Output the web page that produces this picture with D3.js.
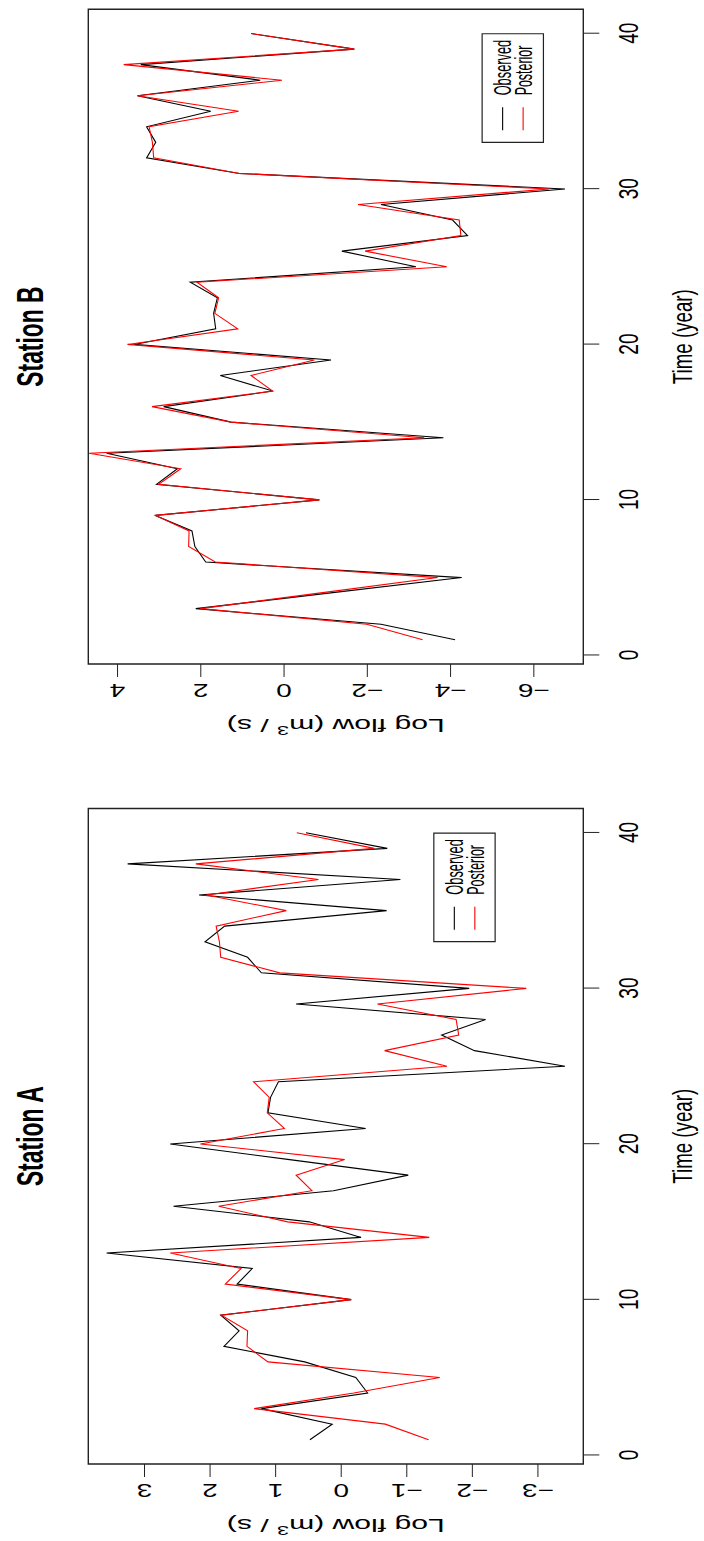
<!DOCTYPE html>
<html><head><meta charset="utf-8">
<script src="https://cdn.jsdelivr.net/npm/d3@7"></script>
<style>body{margin:0;background:#fff} svg{display:block}</style>
</head><body>
<script>
// ---- data ----
const years = [1,2,3,4,5,6,7,8,9,10,11,12,13,14,15,16,17,18,19,20,21,22,23,24,25,26,27,28,29,30,31,32,33,34,35,36,37,38,39,40];
const observedA = [0.47,0.13,1.21,-0.41,-0.23,0.55,1.78,1.55,1.83,-0.16,1.58,1.35,3.57,-0.31,0.48,2.55,0.11,-1.03,0.78,2.60,-0.38,1.11,1.07,0.95,-3.42,-2.04,-1.54,-2.21,0.68,-1.96,1.21,1.42,2.07,1.77,-0.70,2.16,-0.91,3.25,-0.71,0.53];
const posteriorA = [-1.34,-0.68,1.32,-0.20,-1.51,1.11,1.43,1.42,1.82,-0.16,1.76,1.52,2.60,-1.35,0.81,1.86,0.44,0.68,-0.06,2.14,0.86,1.12,1.09,1.33,-1.62,-0.67,-1.80,-1.76,-0.56,-2.83,0.93,1.83,1.85,1.90,0.83,2.05,0.34,2.21,-0.51,0.67];
const observedB = [-4.12,-2.34,2.11,-1.08,-4.28,1.87,2.13,2.20,3.08,-0.86,3.05,2.55,4.25,-3.84,1.26,2.88,0.26,1.52,-1.14,3.59,1.63,1.68,1.59,2.24,-3.18,-1.40,-4.42,-4.06,-2.34,-6.76,1.06,3.29,3.07,3.29,1.75,3.51,0.56,3.43,-1.70,0.78];
const posteriorB = [-3.34,-2.00,2.00,-0.85,-3.70,1.64,2.28,2.27,3.08,-0.86,3.00,2.47,4.67,-3.38,1.26,3.16,0.26,0.78,-0.74,3.75,1.10,1.65,1.56,2.08,-3.92,-1.96,-4.26,-4.22,-1.79,-6.38,1.06,3.12,3.15,3.23,1.08,3.51,0.04,3.84,-1.70,0.78];
const timeTicks = [0,10,20,30,40];
const flowTicksA = [-3,-2,-1,0,1,2,3];
const flowTicksB = [-6,-4,-2,0,2,4];
const titles = ["Station A","Station B"];
const legendLabels = ["Observed","Posterior"];
const seriesColors = ["#000000","#ff0000"];
const xLabel = "Time (year)";

// ---- layout ----
const W = 704, H = 1541;
const k = 0.68;            // horizontal compression of the (unrotated) figure
const FONT = "'Liberation Sans', Arial, Helvetica, sans-serif";

const svg = d3.select("body").append("svg").attr("width", W).attr("height", H)
  .attr("xmlns","http://www.w3.org/2000/svg");
svg.append("rect").attr("width", W).attr("height", H).attr("fill", "#fff");

// Figure is drawn unrotated (width 1541, height 704) and rotated 90deg counter-clockwise.
const root = svg.append("g").attr("transform", `translate(0,${H}) rotate(-90) scale(${k},1)`);

const panels = [
  {title: titles[0], obs: observedA, post: posteriorA, ticks: flowTicksA, X0: 77, X1: 732.5, legY: -1.42, legX: 33},
  {title: titles[1], obs: observedB, post: posteriorB, ticks: flowTicksB, X0: 877, X1: 1531.7, legY: -4.77, legX: 33}
];
const plotTop = 88.3, plotBottom = 583.3;

panels.forEach((p, pi) => {
  const g = root.append("g");
  const xe = d3.extent(years), xp = (xe[1]-xe[0])*0.04;
  const x = d3.scaleLinear().domain([xe[0]-xp, xe[1]+xp]).range([p.X0/k, p.X1/k]);
  const ye = d3.extent(p.obs), yp = (ye[1]-ye[0])*0.04;
  const y = d3.scaleLinear().domain([ye[0]-yp, ye[1]+yp]).range([plotBottom, plotTop]);

  const cid = "clip" + pi;
  g.append("clipPath").attr("id", cid).append("rect")
    .attr("x", p.X0/k).attr("y", plotTop).attr("width", (p.X1-p.X0)/k).attr("height", plotBottom-plotTop);

  const line = d3.line().x((d,i) => x(years[i])).y(d => y(d));
  const lines = g.append("g").attr("clip-path", `url(#${cid})`);
  [p.obs, p.post].forEach((s, si) => {
    lines.append("path").attr("d", line(s)).attr("fill","none")
      .attr("stroke", seriesColors[si]).attr("stroke-width", 1.1)
      .attr("stroke-linejoin","miter")
      .attr("vector-effect","non-scaling-stroke");
  });

  // box
  g.append("rect").attr("x", p.X0/k).attr("y", plotTop)
    .attr("width", (p.X1-p.X0)/k).attr("height", plotBottom-plotTop)
    .attr("fill","none").attr("stroke","#222").attr("stroke-width",1.4)
    .attr("vector-effect","non-scaling-stroke");

  // time axis (original bottom)
  const xa = g.append("g").attr("transform", `translate(0,${plotBottom})`)
    .call(d3.axisBottom(x).tickValues(timeTicks).tickSize(16).tickPadding(18.4).tickSizeOuter(0));
  xa.select(".domain").remove();
  xa.selectAll("line").attr("stroke","#222").attr("vector-effect","non-scaling-stroke");
  xa.selectAll("text").attr("font-size", 28).attr("font-family", FONT).attr("fill","#000");
  xa.attr("font-size", null).attr("font-family", null);

  // flow axis (original left), labels parallel to axis
  const ya = g.append("g").attr("transform", `translate(${p.X0/k},0)`)
    .call(d3.axisLeft(y).tickValues(p.ticks).tickSize(13/k).tickSizeOuter(0).tickFormat(d3.format("d")));
  ya.select(".domain").remove();
  ya.selectAll("line").attr("stroke","#222").attr("vector-effect","non-scaling-stroke");
  ya.selectAll("text").attr("x", null).attr("dy", null)
    .attr("text-anchor","middle")
    .attr("transform", `translate(${-20/k},0) rotate(-90)`)
    .attr("font-size", 28).attr("font-family", FONT).attr("fill","#000");
  ya.attr("font-size", null).attr("font-family", null);

  const cx = (p.X0 + p.X1) / 2 / k;
  // title
  g.append("text").attr("x", cx).attr("y", 42.7).attr("text-anchor","middle")
    .attr("font-family", FONT).attr("font-weight","bold").attr("font-size", 36)
    .attr("textLength", 100/k).attr("lengthAdjust","spacingAndGlyphs")
    .text(p.title);
  // x label
  g.append("text").attr("x", cx).attr("y", 692.5).attr("text-anchor","middle")
    .attr("font-family", FONT).attr("font-size", 28)
    .attr("textLength", 95/k).attr("lengthAdjust","spacingAndGlyphs")
    .text(xLabel);
  // y label
  const yl = g.append("text")
    .attr("transform", `translate(${(p.X0 - 54.6)/k},${(plotTop+plotBottom)/2}) rotate(-90)`)
    .attr("text-anchor","middle").attr("font-family", FONT).attr("font-size", 28)
    .attr("textLength", 218).attr("lengthAdjust","spacingAndGlyphs");
  yl.append("tspan").text("Log flow (m");
  yl.append("tspan").attr("baseline-shift","super").attr("font-size", 20).text("3");
  yl.append("tspan").text(" / s)");

  // legend
  const lx = x(p.legX), ly = y(p.legY);
  const lg = g.append("g");
  lg.append("rect").attr("x", lx).attr("y", ly).attr("width", 108.6/k).attr("height", 61.3)
    .attr("fill","#fff").attr("stroke","#222").attr("stroke-width",1.2)
    .attr("vector-effect","non-scaling-stroke");
  legendLabels.forEach((lab, i) => {
    const yy = ly + 20.5 + i*20.5;
    lg.append("line").attr("x1", lx + 12/k).attr("x2", lx + 35/k)
      .attr("y1", yy).attr("y2", yy).attr("stroke", seriesColors[i]).attr("stroke-width",1.1)
      .attr("vector-effect","non-scaling-stroke");
    lg.append("text").attr("x", lx + 47/k).attr("y", ly + 29 + i*21)
      .attr("font-family", FONT).attr("font-size", 23)
      .attr("textLength", (i === 0 ? 55.6 : 49.7)/k).attr("lengthAdjust","spacingAndGlyphs")
      .text(lab);
  });
});
</script>
</body></html>
